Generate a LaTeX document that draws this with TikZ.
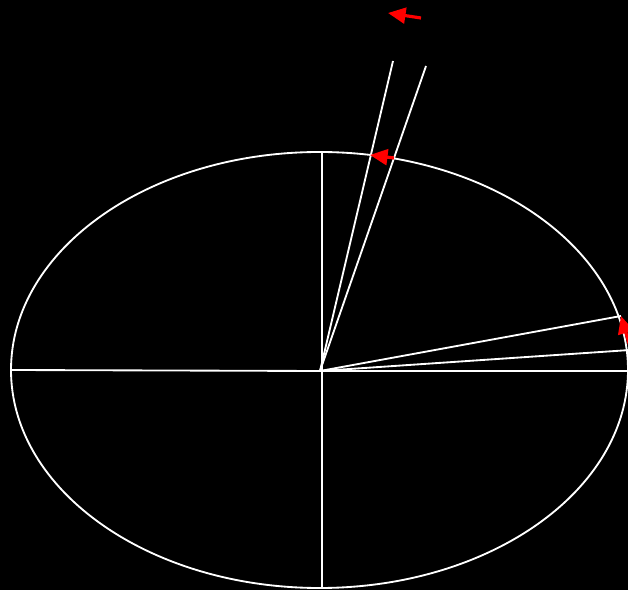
\documentclass[tikz,border=0pt]{standalone}
\usetikzlibrary{arrows.meta}
\begin{document}
\begin{tikzpicture}[x=0.02cm,y=-0.02cm,
  wline/.style={white,line width=1.05pt},
  rarrow/.style={red,line width=1.8pt,-{Triangle[length=10pt,width=9pt]}}]
\fill[black] (0,0) rectangle (628,590);
\useasboundingbox (0,0) rectangle (628,590);
\begin{scope}
\clip (0,0) rectangle (628,590);
\coordinate (O) at (320,371);
\coordinate (L) at (11,370);
\coordinate (R) at (630,371);
\coordinate (T) at (322,152);
\coordinate (B) at (322,588);
\coordinate (P1) at (393,61);
\coordinate (P2) at (426,66);
\coordinate (P3) at (621,316);
\coordinate (P4) at (630,350);
\draw[wline] (319.5,370) ellipse [x radius=308.5, y radius=218];
\draw[wline] (L) -- (O) -- (R);
\draw[wline] (T) -- (B);
\draw[wline] (O) -- (P1);
\draw[wline] (O) -- (P2);
\draw[wline] (O) -- (P3);
\draw[wline] (O) -- (P4);
\coordinate (A1s) at (421,18);
\coordinate (A1e) at (388,13);
\coordinate (A2s) at (394,158);
\coordinate (A2e) at (370,155);
\coordinate (A3s) at (631,350);
\coordinate (A3e) at (621,316);
\draw[rarrow] (A1s) -- (A1e);
\draw[rarrow] (A2s) -- (A2e);
\draw[rarrow] (A3s) -- (A3e);
\end{scope}
\end{tikzpicture}
\end{document}
